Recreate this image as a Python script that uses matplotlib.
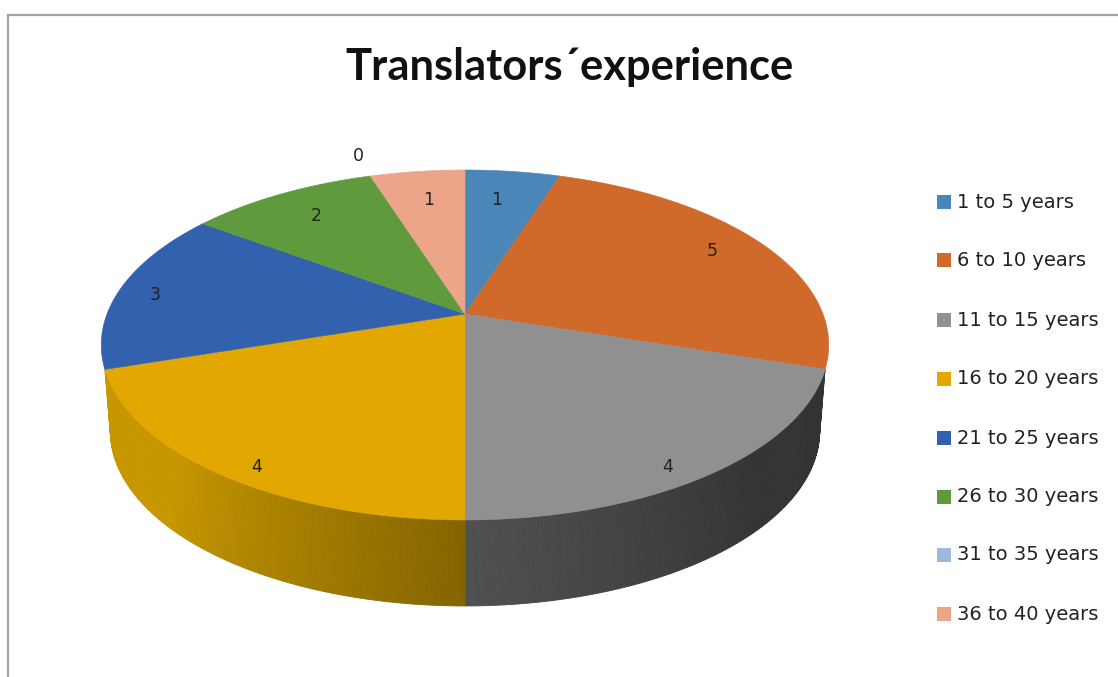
import numpy as np
from matplotlib import pyplot as plt
from matplotlib.colors import to_rgb

title = "Translators´experience"
categories = [
    "1 to 5 years",
    "6 to 10 years",
    "11 to 15 years",
    "16 to 20 years",
    "21 to 25 years",
    "26 to 30 years",
    "31 to 35 years",
    "36 to 40 years",
]
values = [1, 5, 4, 4, 3, 2, 0, 1]
colors = [
    "#4a86b8",
    "#cf6a2a",
    "#909090",
    "#e2a700",
    "#3262ae",
    "#5f9a3c",
    "#9db8dd",
    "#eda58a",
]
# rim shades, front centre to outer edge
rim_shades = {2: ("#505050", "#333333"), 3: ("#846400", "#c79700")}

label_pos = [
    (497, 200),
    (712, 251),
    (668, 467),
    (257, 467),
    (155, 295),
    (316, 216),
    (358, 156),
    (429, 200),
]

CX, CY = 465, 314
A, B, K = 358, 169.5, 0.177
DEPTH = 86


def project(theta, shrink=1.0, drop=0.0):
    # circle seen in perspective, theta clockwise from the top
    d = 1 + K * np.cos(theta)
    return CX + shrink * A * np.sin(theta) / d, CY + drop - B * np.cos(theta) / d


def lower(theta):
    # bottom rim runs a little further round, up to the silhouette
    return project(np.pi + (theta - np.pi) * 1.08, 0.975, DEPTH)


fig = plt.figure(figsize=(11.18, 6.77), dpi=100)
ax = fig.add_axes([0, 0, 1, 1])
ax.set_xlim(0, 1118)
ax.set_ylim(677, 0)
ax.axis("off")

ax.plot([8, 8, 1118], [677, 15, 15], color="#a4a4a4", lw=1.6, solid_joinstyle="miter")

edges = np.cumsum([0] + values) / sum(values) * 2 * np.pi

# rim first, thin strips to get the shading
for i, (c_mid, c_out) in rim_shades.items():
    c_mid, c_out = np.array(to_rgb(c_mid)), np.array(to_rgb(c_out))
    t = np.linspace(edges[i], edges[i + 1], 160)
    for t0, t1 in zip(t[:-1], t[1:]):
        x0, y0 = project(t0)
        x1, y1 = project(t1)
        x2, y2 = lower(t1)
        x3, y3 = lower(t0)
        frac = min(abs((t0 + t1) / 2 - np.pi) / (edges[i + 1] - edges[i]), 1)
        col = c_mid + (c_out - c_mid) * min(frac * 1.6, 1)
        ax.fill([x0, x1, x2, x3], [y0, y1, y2, y3], color=col, lw=0.6)

# top face
for i, col in enumerate(colors):
    if values[i] == 0:
        continue
    t = np.linspace(edges[i], edges[i + 1], 120)
    xs, ys = project(t)
    ax.fill(np.r_[CX, xs], np.r_[CY, ys], color=col, lw=0.4)

for v, (x, y) in zip(values, label_pos):
    ax.text(x, y, str(v), ha="center", va="center", fontsize=12.5, color="#222222")

ax.text(
    570,
    67,
    title,
    ha="center",
    va="center",
    fontsize=31.3,
    family="Lato",
    fontweight="bold",
    color="#111111",
)

# legend
legend_y = [202, 260, 320, 379, 438, 497, 555, 614]
for name, col, y in zip(categories, colors, legend_y):
    ax.fill([937, 951, 951, 937], [y - 7, y - 7, y + 7, y + 7], color=col, lw=0)
    ax.text(957, y, name, ha="left", va="center", fontsize=14, color="#222222")

fig.savefig("out.png", dpi=100)
